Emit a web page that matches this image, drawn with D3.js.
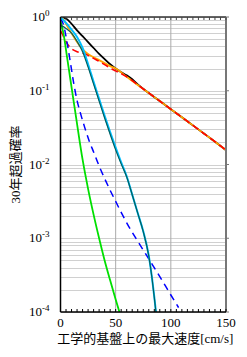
<!DOCTYPE html>
<html>
<head>
<meta charset="utf-8">
<script src="https://cdn.jsdelivr.net/npm/d3@7"></script>
<style>
  body { margin: 0; background: #fff; }
  text { font-family: "Liberation Serif", "Noto Sans CJK JP", serif; fill: #000; }
</style>
</head>
<body>
<div id="graph"></div>
<script>
// speeds [cm/s] and 30-year exceedance probabilities
var blackV = [0,5,10,15,20,25,30,35,40,45,50,55,60,65,70,80,90,100,110,120,130,140,150];
var blackP = [1.0,0.955,0.81,0.66,0.55,0.457,0.38,0.316,0.269,0.229,0.2,0.178,0.162,0.143,0.122,0.0933,0.0724,0.0562,0.0437,0.0339,0.0263,0.0204,0.0157];

var orangeV = [0,3,6,10,15,20,25,30,35,40,45,50,60,70,80,90,100,110,120,130,140,150];
var orangeP = [1.0,0.912,0.759,0.603,0.457,0.363,0.316,0.285,0.26,0.237,0.216,0.2,0.155,0.12,0.0933,0.0724,0.0562,0.0437,0.0339,0.0263,0.0204,0.0157];

var redV = [0,2,4,6,8,10,15,20,25,30,35,40,45,50,55,60,70,80,90,100,110,120,130,140,150];
var redP = [0.646,0.575,0.49,0.437,0.398,0.372,0.339,0.324,0.302,0.275,0.251,0.226,0.204,0.186,0.17,0.155,0.12,0.0933,0.0724,0.0562,0.0437,0.0339,0.0263,0.0204,0.0157];

var cyanV = [0,5,10,15,20,25,30,35,40,45,50,55,60,65,70,75,80,83,85,87];
var cyanP = [0.989,0.832,0.676,0.537,0.38,0.229,0.132,0.0776,0.0457,0.0275,0.017,0.0107,0.00692,0.0039,0.0022,0.00124,0.00058,0.000285,0.00016,0.0000861];

var tealV = [0,5,10,15,20,25,30,35,40,45,50,55,60,65,70,75,80,83,85,87];
var tealP = [0.776,0.70,0.603,0.468,0.339,0.209,0.123,0.0724,0.0427,0.0257,0.0158,0.0102,0.00676,0.00389,0.00219,0.00123,0.000575,0.000282,0.000158,0.0000851];

var greenV = [0,3,6,9,12,15,20,25,30,35,40,45,50,55];
var greenP = [0.891,0.562,0.282,0.141,0.0708,0.0355,0.0117,0.00468,0.00209,0.001,0.0005,0.000269,0.000148,0.0000832];

var blueV = [0,3,6,9,12,15,18,22,26,30,35,40,45,50,55,60,65,70,80,90,100,107];
var blueP = [0.955,0.759,0.447,0.24,0.126,0.0741,0.0501,0.0316,0.0209,0.0148,0.00955,0.00646,0.00447,0.00316,0.00224,0.00162,0.0012,0.000912,0.000525,0.000302,0.00017,0.000115];

var xTicks = [0, 50, 100, 150];
var yExps = [0, -1, -2, -3, -4];
var xLabel = "工学的基盤上の最大速度[cm/s]";
var yLabel = "30年超過確率";

var W = 247, H = 357;
var margin = {top: 17, right: 21, bottom: 45, left: 60.5};
var width = W - margin.left - margin.right,
    height = H - margin.top - margin.bottom;

var x = d3.scaleLinear().domain([0, 150]).range([0, width]);
var y = d3.scaleLog().domain([1e-4, 1]).range([height, 0]);

var svg = d3.select("#graph").append("svg")
    .attr("width", W)
    .attr("height", H)
  .append("g")
    .attr("transform", "translate(" + margin.left + "," + margin.top + ")");

svg.append("defs").append("clipPath").attr("id", "clip")
  .append("rect").attr("width", width).attr("height", height);

// horizontal grid at every log minor step
var minor = [];
yExps.forEach(function(e) {
  if (e === 0) return;
  for (var k = 1; k <= 9; k++) minor.push(k * Math.pow(10, e));
});
minor.push(1);

svg.append("g").selectAll("line")
  .data(minor)
  .enter().append("line")
  .attr("x1", 0).attr("x2", width)
  .attr("y1", function(d) { return Math.round(y(d)) + 0.5; })
  .attr("y2", function(d) { return Math.round(y(d)) + 0.5; })
  .style("stroke", "#d0d0d0")
  .style("stroke-width", 1);

svg.append("g").selectAll("line")
  .data([50, 100])
  .enter().append("line")
  .attr("x1", function(d) { return x(d); }).attr("x2", function(d) { return x(d); })
  .attr("y1", 0).attr("y2", height)
  .style("stroke", "#aaa")
  .style("stroke-width", 1);

// curves
var series = [
  {v: blackV, p: blackP, color: "#000", w: 1.8},
  {v: orangeV, p: orangeP, color: "#ffa500", w: 1.8},
  {v: redV, p: redP, color: "#ff0000", w: 1.6, dash: "7,4"},
  {v: greenV, p: greenP, color: "#00e000", w: 1.8},
  {v: blueV, p: blueP, color: "#0000ff", w: 1.5, dash: "7,5"},
  {v: cyanV, p: cyanP, color: "#00bfff", w: 2},
  {v: tealV, p: tealP, color: "#006060", w: 1.2}
];

var line = d3.line()
  .x(function(d) { return x(d[0]); })
  .y(function(d) { return y(d[1]); })
  .curve(d3.curveMonotoneX);

var plot = svg.append("g").attr("clip-path", "url(#clip)");

series.forEach(function(s) {
  plot.append("path")
    .datum(d3.zip(s.v, s.p))
    .attr("d", line)
    .style("fill", "none")
    .style("stroke", s.color)
    .style("stroke-width", s.w)
    .style("stroke-dasharray", s.dash || null);
});

// frame
svg.append("line").attr("x1", 0).attr("x2", width).attr("y1", 0).attr("y2", 0)
  .style("stroke", "#333").style("stroke-width", 1.4);
svg.append("line").attr("x1", width).attr("x2", width).attr("y1", 0).attr("y2", height)
  .style("stroke", "#777").style("stroke-width", 2);

var xMinor = d3.range(0, 151, 5);
svg.append("g").selectAll("line")
  .data(xMinor)
  .enter().append("line")
  .attr("x1", function(d) { return x(d); }).attr("x2", function(d) { return x(d); })
  .attr("y1", 0).attr("y2", 3)
  .style("stroke", "#444");

svg.append("g").selectAll("line")
  .data(xMinor)
  .enter().append("line")
  .attr("x1", function(d) { return x(d); }).attr("x2", function(d) { return x(d); })
  .attr("y1", height).attr("y2", height - 3)
  .style("stroke", "#000");

svg.append("g").selectAll("line")
  .data(yExps)
  .enter().append("line")
  .attr("x1", width).attr("x2", width + 3)
  .attr("y1", function(d) { return y(Math.pow(10, d)); })
  .attr("y2", function(d) { return y(Math.pow(10, d)); })
  .style("stroke", "#777");

svg.append("line").attr("x1", 0).attr("x2", width).attr("y1", height).attr("y2", height)
  .style("stroke", "#000").style("stroke-width", 1.5);
svg.append("line").attr("x1", 0).attr("x2", 0).attr("y1", 0).attr("y2", height)
  .style("stroke", "#000").style("stroke-width", 1.5);

// tick labels
svg.append("g").selectAll("text")
  .data(xTicks)
  .enter().append("text")
  .attr("x", function(d) { return x(d); })
  .attr("y", height + 15)
  .style("text-anchor", "middle")
  .style("font-size", "13px")
  .text(function(d) { return d; });

var yl = svg.append("g").selectAll("text")
  .data(yExps)
  .enter().append("text")
  .attr("x", -11)
  .attr("y", function(d) { return y(Math.pow(10, d)) + 4; })
  .style("text-anchor", "end")
  .style("font-size", "13px");
yl.append("tspan").text("10");
yl.append("tspan")
  .attr("dy", -5)
  .style("font-size", "9px")
  .text(function(d) { return d === 0 ? "0" : d; });

svg.append("text")
  .attr("x", width / 2 + 2)
  .attr("y", height + 31)
  .style("text-anchor", "middle")
  .style("font-size", "13px")
  .text(xLabel);

svg.append("text")
  .attr("transform", "rotate(-90)")
  .attr("x", -height / 2)
  .attr("y", -41)
  .style("text-anchor", "middle")
  .style("font-size", "13px")
  .text(yLabel);
</script>
</body>
</html>
